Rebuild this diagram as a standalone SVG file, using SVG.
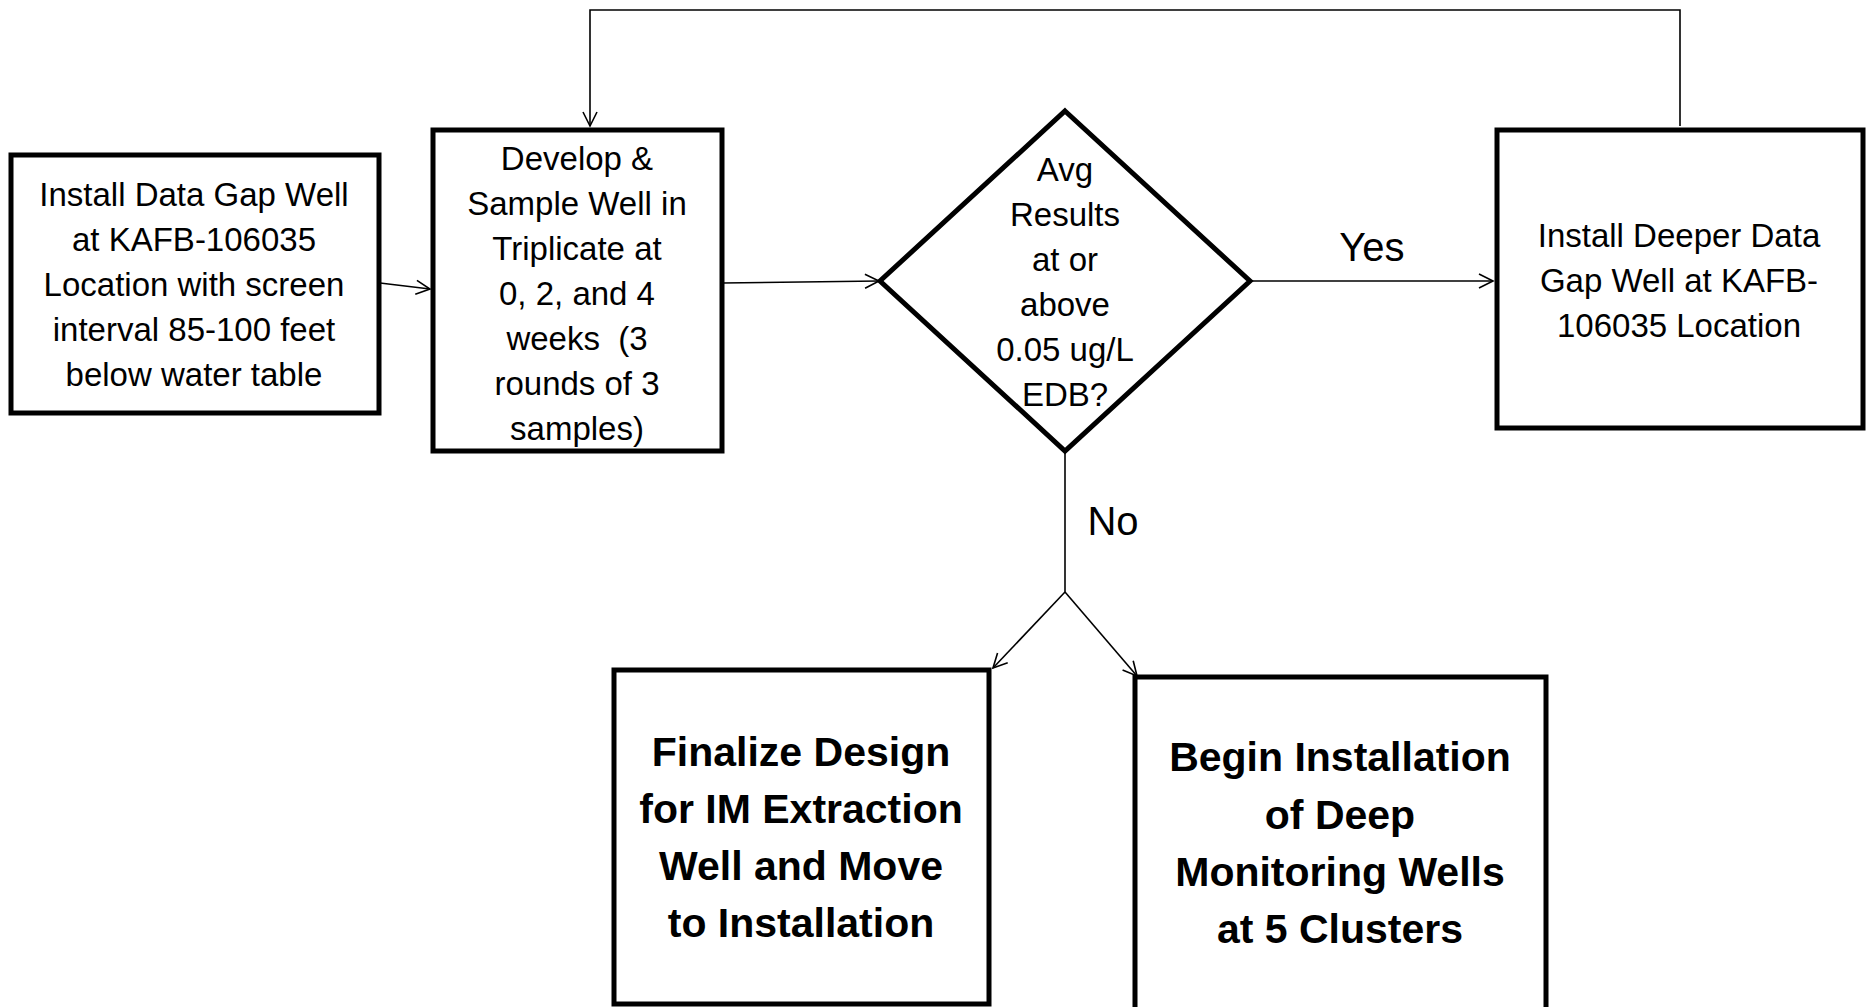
<svg xmlns="http://www.w3.org/2000/svg" width="1866" height="1007" viewBox="0 0 1866 1007">
<defs>
<style>
.box{fill:#fff;stroke:#000;stroke-width:5}
.con{fill:none;stroke:#000;stroke-width:1.6}
.t{font-family:"Liberation Sans",Arial,sans-serif;font-size:33px;text-anchor:middle;fill:#000}
.b{font-family:"Liberation Sans",Arial,sans-serif;font-size:41px;font-weight:bold;text-anchor:middle;fill:#000}
.lbl{font-family:"Liberation Sans",Arial,sans-serif;font-size:40px;text-anchor:middle;fill:#000}
</style>
<marker id="arr" markerWidth="18" markerHeight="18" refX="15" refY="8" orient="auto" markerUnits="userSpaceOnUse">
<path d="M1,1 L15,8 L1,15" fill="none" stroke="#000" stroke-width="1.6"/>
</marker>
</defs>
<rect width="1866" height="1007" fill="#fff"/>
<g id="connectors">
<path class="con" d="M380,283 L430,289" marker-end="url(#arr)"/>
<path class="con" d="M722,283 L879,281" marker-end="url(#arr)"/>
<path class="con" d="M1250,281 L1493,281" marker-end="url(#arr)"/>
<path class="con" d="M1680,126 V10 H590 V126" marker-end="url(#arr)"/>
<path class="con" d="M1065,452 V592"/>
<path class="con" d="M1065,592 L993,668" marker-end="url(#arr)"/>
<path class="con" d="M1065,592 L1137,676" marker-end="url(#arr)"/>
<text class="lbl" x="1372" y="261">Yes</text>
<text class="lbl" x="1113" y="535">No</text>
</g>
<g id="n1">
<rect class="box" x="11" y="155" width="368" height="258"/>
<text class="t" x="194" y="206">Install Data Gap Well</text>
<text class="t" x="194" y="251">at KAFB-106035</text>
<text class="t" x="194" y="296">Location with screen</text>
<text class="t" x="194" y="341">interval 85-100 feet</text>
<text class="t" x="194" y="386">below water table</text>
</g>
<g id="n2">
<rect class="box" x="433" y="130" width="289" height="321"/>
<text class="t" x="577" y="170">Develop &amp;</text>
<text class="t" x="577" y="215">Sample Well in</text>
<text class="t" x="577" y="260">Triplicate at</text>
<text class="t" x="577" y="305">0, 2, and 4</text>
<text class="t" x="577" y="350">weeks&#160; (3</text>
<text class="t" x="577" y="395">rounds of 3</text>
<text class="t" x="577" y="440">samples)</text>
</g>
<g id="n3">
<polygon class="box" points="1065,111 1250,281 1065,451 880,281"/>
<text class="t" x="1065" y="181">Avg</text>
<text class="t" x="1065" y="226">Results</text>
<text class="t" x="1065" y="271">at or</text>
<text class="t" x="1065" y="316">above</text>
<text class="t" x="1065" y="361">0.05 ug/L</text>
<text class="t" x="1065" y="406">EDB?</text>
</g>
<g id="n4">
<rect class="box" x="1497" y="130" width="366" height="298"/>
<text class="t" x="1679" y="247">Install Deeper Data</text>
<text class="t" x="1679" y="292">Gap Well at KAFB-</text>
<text class="t" x="1679" y="337">106035 Location</text>
</g>
<g id="n5">
<rect class="box" x="614" y="670" width="375" height="334"/>
<text class="b" x="801" y="766">Finalize Design</text>
<text class="b" x="801" y="823">for IM Extraction</text>
<text class="b" x="801" y="880">Well and Move</text>
<text class="b" x="801" y="937">to Installation</text>
</g>
<g id="n6">
<rect class="box" x="1135" y="677" width="411" height="333"/>
<text class="b" x="1340" y="771">Begin Installation</text>
<text class="b" x="1340" y="829">of Deep</text>
<text class="b" x="1340" y="886">Monitoring Wells</text>
<text class="b" x="1340" y="943">at 5 Clusters</text>
</g>
</svg>
